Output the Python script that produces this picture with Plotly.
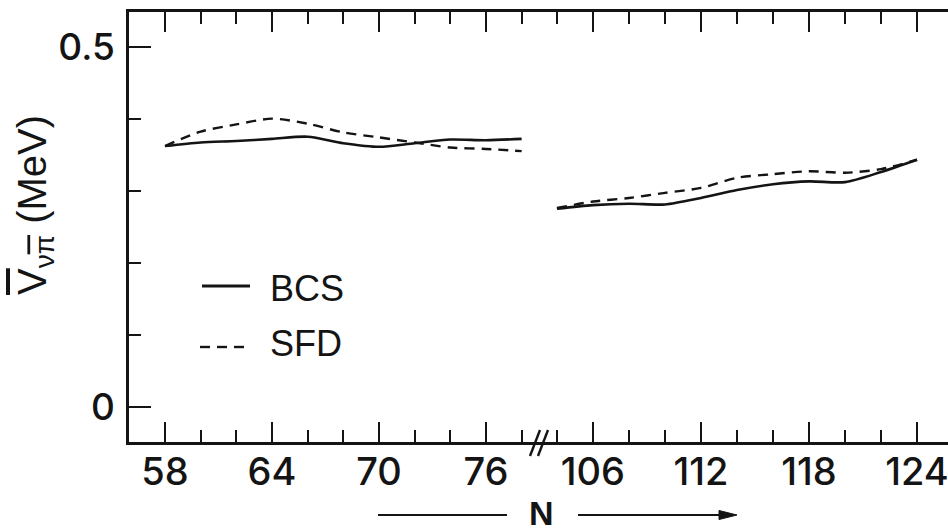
import plotly.graph_objects as go

# Neutron number N on the two branches of the broken axis
N_LEFT = [58, 60, 62, 64, 66, 68, 70, 72, 74, 76, 78]
N_RIGHT = [104, 106, 108, 110, 112, 114, 116, 118, 120, 122, 124]

# Average neutron-proton-hole interaction strength (MeV)
BCS_LEFT = [0.362, 0.367, 0.369, 0.372, 0.375, 0.366, 0.361, 0.366, 0.371, 0.370, 0.372]
SFD_LEFT = [0.362, 0.382, 0.392, 0.400, 0.393, 0.381, 0.374, 0.367, 0.360, 0.358, 0.355]
BCS_RIGHT = [0.275, 0.280, 0.282, 0.281, 0.290, 0.301, 0.309, 0.313, 0.312, 0.326, 0.343]
SFD_RIGHT = [0.276, 0.285, 0.290, 0.297, 0.304, 0.318, 0.323, 0.327, 0.325, 0.330, 0.343]

W, H = 948, 531
ML, MR, MT, MB = 129, 0, 12, 89
PW, PH = W - ML - MR, H - MT - MB
INK = "#141414"
FONT = "Liberation Sans, Arial, sans-serif"
TICK_FONT = "Inter, Liberation Sans, sans-serif"
Y_RANGE = [-0.0486, 0.548]


def px(x):
    return (x - ML) / PW


def py(y):
    return (H - MB - y) / PH


split = px(540)

fig = go.Figure()

line_solid = dict(color=INK, width=2.6, shape="spline", smoothing=0.8)
line_dash = dict(color=INK, width=2.4, dash="10px,7px", shape="spline", smoothing=0.8)

for xs, ys, xa in [(N_LEFT, BCS_LEFT, "x"), (N_RIGHT, BCS_RIGHT, "x2")]:
    fig.add_trace(go.Scatter(x=xs, y=ys, xaxis=xa, yaxis="y", mode="lines",
                             line=line_solid, name="BCS", showlegend=False))
for xs, ys, xa in [(N_LEFT, SFD_LEFT, "x"), (N_RIGHT, SFD_RIGHT, "x2")]:
    fig.add_trace(go.Scatter(x=xs, y=ys, xaxis=xa, yaxis="y", mode="lines",
                             line=line_dash, name="SFD", showlegend=False))

xcommon = dict(ticks="inside", ticklen=20, tickwidth=2, tickcolor=INK,
               showline=True, linewidth=2.5, linecolor=INK, mirror="ticks",
               showgrid=False, zeroline=False,
               tickfont=dict(family=TICK_FONT, size=38, color=INK, weight=500),
               ticklabelstandoff=-5, ticklabeloverflow="allow", anchor="y")

fig.update_layout(
    width=W, height=H,
    margin=dict(l=ML, r=MR, t=MT, b=MB),
    paper_bgcolor="white", plot_bgcolor="white",
    xaxis=dict(domain=[0, split], range=[55.98, 79.03], tick0=58, dtick=6,
               minor=dict(tick0=58, dtick=2, ticks="inside", ticklen=12,
                          tickwidth=2, tickcolor=INK),
               **xcommon),
    xaxis2=dict(domain=[split, 1], range=[103.06, 125.72], tick0=106, dtick=6,
                minor=dict(tick0=104, dtick=2, ticks="inside", ticklen=12,
                           tickwidth=2, tickcolor=INK),
                **xcommon),
    yaxis=dict(domain=[0, 1], range=Y_RANGE, tick0=0, dtick=0.5,
               ticks="inside", ticklen=22, tickwidth=2, tickcolor=INK,
               minor=dict(dtick=0.1, ticks="inside", ticklen=12, tickwidth=2,
                          tickcolor=INK),
               showline=True, linewidth=2.5, linecolor=INK,
               showgrid=False, zeroline=False,
               tickfont=dict(family=TICK_FONT, size=37, color=INK, weight=500),
               ticklabelstandoff=4, anchor="x"),
    yaxis2=dict(overlaying="y", side="right", anchor="x2",
                range=Y_RANGE, tick0=0, dtick=0.5,
                ticks="inside", ticklen=16, tickwidth=2, tickcolor=INK,
                minor=dict(dtick=0.1, ticks="inside", ticklen=8, tickwidth=2,
                           tickcolor=INK),
                showticklabels=False, showline=False, showgrid=False,
                zeroline=False),
)

shapes = []
# axis break marks
for x0 in (530, 538):
    shapes.append(dict(type="line", xref="paper", yref="paper",
                       x0=px(x0), y0=py(456), x1=px(x0 + 10), y1=py(430),
                       line=dict(color=INK, width=2.4)))
# legend samples
shapes.append(dict(type="line", xref="paper", yref="paper",
                   x0=px(202), y0=py(286), x1=px(250), y1=py(286),
                   line=dict(color=INK, width=3)))
for a in (200, 217, 234):
    shapes.append(dict(type="line", xref="paper", yref="paper",
                       x0=px(a), y0=py(347), x1=px(a + 10), y1=py(347),
                       line=dict(color=INK, width=2.4)))
# arrow shafts around the axis name, with the arrowhead on the right
shapes.append(dict(type="line", xref="paper", yref="paper",
                   x0=px(378), y0=py(515), x1=px(507), y1=py(515),
                   line=dict(color=INK, width=2.2)))
shapes.append(dict(type="line", xref="paper", yref="paper",
                   x0=px(578), y0=py(515), x1=px(724), y1=py(515),
                   line=dict(color=INK, width=2.2)))
shapes.append(dict(type="path", xref="paper", yref="paper",
                   path="M {} {} L {} {} L {} {} Z".format(
                       px(719), py(510.5), px(737), py(515), px(719), py(519.5)),
                   fillcolor=INK, line=dict(color=INK, width=1)))
fig.update_layout(shapes=shapes)

annotations = [
    dict(text="BCS", x=px(268), y=py(288), xref="paper", yref="paper",
         xanchor="left", yanchor="middle", showarrow=False,
         font=dict(family=FONT, size=36, color=INK)),
    dict(text="SFD", x=px(268), y=py(343), xref="paper", yref="paper",
         xanchor="left", yanchor="middle", showarrow=False,
         font=dict(family=FONT, size=36, color=INK)),
    dict(text="<b>N</b>", x=px(541), y=py(513), xref="paper", yref="paper",
         xanchor="center", yanchor="middle", showarrow=False,
         font=dict(family=FONT, size=34, color=INK)),
    dict(text='<span style="text-decoration:overline">V</span>'
              '<sub>\u03bd<span style="text-decoration:overline">\u03c0</span></sub>'
              ' (MeV)',
         x=px(35), y=py(205), xref="paper", yref="paper",
         xanchor="center", yanchor="middle", textangle=-90, showarrow=False,
         font=dict(family=FONT, size=40, color=INK)),
]
fig.update_layout(annotations=annotations)

fig.write_html("out.html")
